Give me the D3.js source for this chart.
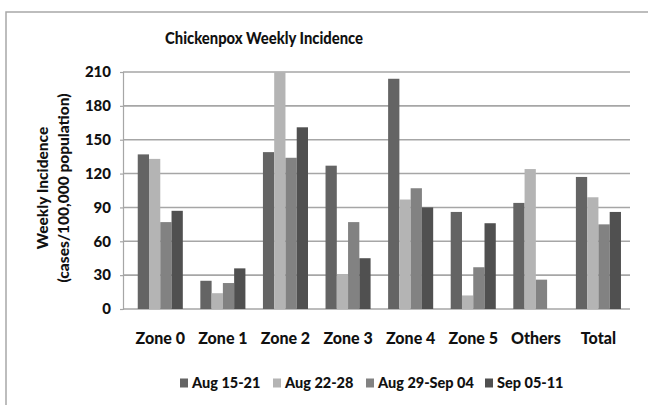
<!DOCTYPE html>
<html>
<head>
<meta charset="utf-8">
<script src="https://cdn.jsdelivr.net/npm/d3@7"></script>
<style>
body { margin: 0; background: #fff; }
svg text { font-family: Lato, "Open Sans", sans-serif; font-weight: 900; fill: #111; }
</style>
</head>
<body>
<script>
var categories = ["Zone 0","Zone 1","Zone 2","Zone 3","Zone 4","Zone 5","Others","Total"];
var seriesNames = ["Aug 15-21","Aug 22-28","Aug 29-Sep 04","Sep 05-11"];
var aug15 = [137, 25, 139, 127, 204, 86, 94, 117];
var aug22 = [133, 14, 212, 31, 97, 12, 124, 99];
var aug29 = [77, 23, 134, 77, 107, 37, 26, 75];
var sep05 = [87, 36, 161, 45, 90, 76, null, 86];
var yTicks = [0,30,60,90,120,150,180,210];
var colors = ["#646464","#b4b4b4","#828282","#505050"];

var loadChart = function(){
    var W = 648, H = 405;
    var svg = d3.select("body").append("svg")
        .attr("width", W)
        .attr("height", H);

    // chart frame, runs off the page on right and bottom
    svg.append("rect")
        .attr("x", 6).attr("y", 12)
        .attr("width", 700).attr("height", 500)
        .attr("fill", "none")
        .attr("stroke", "#a8a8a8")
        .attr("stroke-width", 1.5);

    svg.append("text")
        .attr("x", 264).attr("y", 44)
        .attr("text-anchor", "middle")
        .attr("textLength", 198)
        .attr("lengthAdjust", "spacingAndGlyphs")
        .style("font-size", "16.5px")
        .text("Chickenpox Weekly Incidence");

    var xScale = d3.scaleBand().domain(categories).range([123, 630])
        .paddingInner(0.28).paddingOuter(0.19).align(0.62);
    var yScale = d3.scaleLinear().domain([0,210]).range([309, 72]);
    var xSub = d3.scaleBand().domain(d3.range(4)).range([0, xScale.bandwidth()]);

    // gridlines
    svg.append("g").selectAll("line").data(yTicks).enter().append("line")
        .attr("x1", 123).attr("x2", 630)
        .attr("y1", function(d){ return yScale(d); })
        .attr("y2", function(d){ return yScale(d); })
        .attr("stroke", "#a6a6a6")
        .attr("stroke-width", 1.6);

    var yAxis = d3.axisLeft(yScale).tickValues(yTicks).tickSize(3).tickPadding(9);
    var gy = svg.append("g").attr("transform", "translate(123,0)").call(yAxis);
    gy.select(".domain").attr("stroke", "#a6a6a6").attr("stroke-width", 1.2);
    gy.selectAll(".tick line").attr("stroke", "#a6a6a6").attr("stroke-width", 1.2);
    gy.selectAll("text").style("font-size", "15px").style("font-family", "Lato, sans-serif").attr("fill", "#111");

    var xAxis = d3.axisBottom(xScale).tickSize(0).tickPadding(24);
    var gx = svg.append("g").attr("transform", "translate(0,309)").call(xAxis);
    gx.select(".domain").remove();
    gx.selectAll("text").style("font-size", "16px").style("font-family", "Lato, sans-serif").attr("fill", "#111");

    var series = [aug15, aug22, aug29, sep05];
    series.forEach(function(vals, s){
        svg.append("g").selectAll("rect")
            .data(vals.map(function(v,i){ return {c: categories[i], v: v}; }).filter(function(d){ return d.v != null; }))
            .enter().append("rect")
            .attr("x", function(d){ return xScale(d.c) + xSub(s); })
            .attr("width", xSub.bandwidth())
            .attr("y", function(d){ return yScale(Math.min(d.v, 210)); })
            .attr("height", function(d){ return yScale(0) - yScale(Math.min(d.v, 210)); })
            .attr("fill", colors[s]);
    });

    // y title
    var yt = svg.append("text")
        .attr("transform", "translate(48,188) rotate(-90)")
        .attr("text-anchor", "middle")
        .style("font-size", "15.5px");
    yt.append("tspan").attr("x", 0).attr("dy", 0).text("Weekly Incidence");
    yt.append("tspan").attr("x", 0).attr("dy", 21).text("(cases/100,000 population)");

    // legend
    var legendX = [180, 273, 366, 485];
    var lg = svg.append("g").selectAll("g").data(seriesNames).enter().append("g")
        .attr("transform", function(d,i){ return "translate(" + legendX[i] + ",383)"; });
    lg.append("rect").attr("x", 0).attr("y", -4.5).attr("width", 8).attr("height", 9)
        .attr("fill", function(d,i){ return colors[i]; });
    lg.append("text").attr("x", 12).attr("y", 5)
        .style("font-size", "14.5px")
        .text(function(d){ return d; });
};

window.onload = loadChart;
</script>
</body>
</html>
